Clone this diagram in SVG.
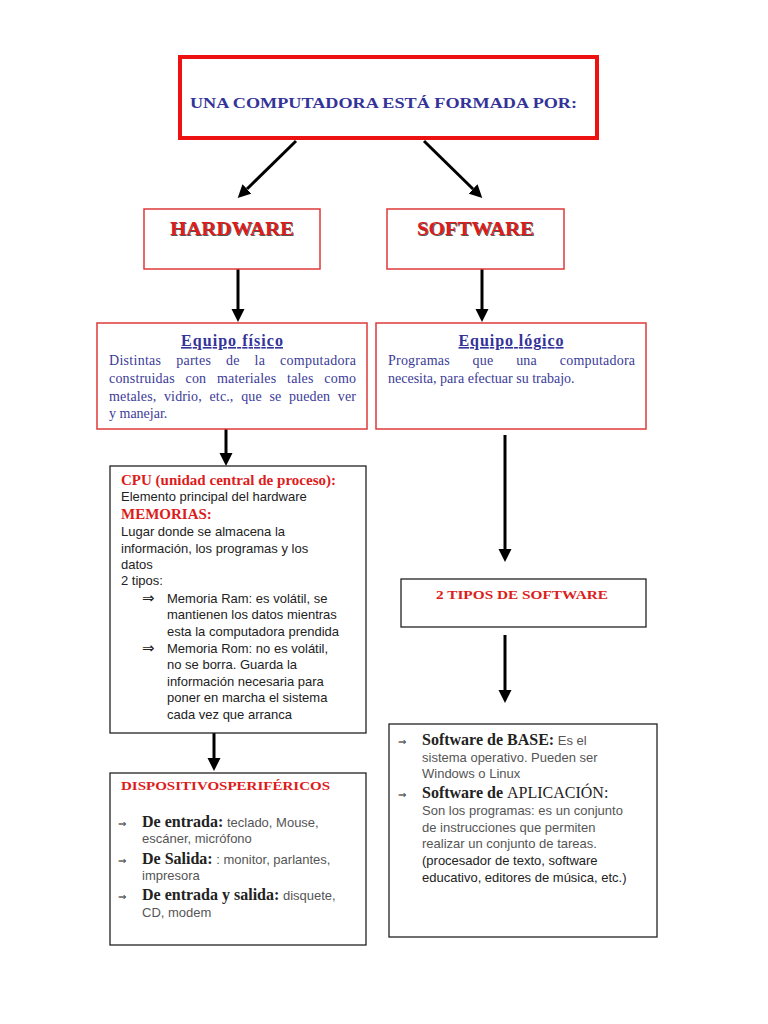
<svg xmlns="http://www.w3.org/2000/svg" width="768" height="1024" viewBox="0 0 768 1024">
<defs>
<marker id="ah" markerUnits="userSpaceOnUse" markerWidth="14" markerHeight="14" refX="0" refY="7" orient="auto">
<path d="M0,0.5 L13,7 L0,13.5 z" fill="#000"/>
</marker>
<style>
.rbox{fill:#fff;stroke:#e03a3a;stroke-width:1.5}
.bbox{fill:#fff;stroke:#222;stroke-width:1.3}
.con{stroke:#000;stroke-width:3;fill:none;marker-end:url(#ah)}
.navyB{font-family:"Liberation Serif",serif;font-weight:bold;fill:#333399}
.body{font-family:"Liberation Serif",serif;font-size:14px;fill:#3b3b98}
.redB{font-family:"Liberation Serif",serif;font-weight:bold;fill:#dd1c1c}
.big{font-family:"Liberation Serif",serif;font-weight:bold;font-size:18px}
.sans{font-family:"Liberation Sans",Arial,sans-serif;font-size:13px;fill:#222}
.gsans{font-family:"Liberation Sans",Arial,sans-serif;font-size:13px;fill:#555}
.blkB{font-family:"Liberation Serif",serif;font-weight:bold;font-size:16px;fill:#222}
.arr{font-family:"DejaVu Sans",sans-serif;fill:#222}
</style>
</defs>
<rect width="768" height="1024" fill="#fff"/>

<g id="connectors">
<line class="con" x1="296" y1="141" x2="247" y2="189"/>
<line class="con" x1="424" y1="141" x2="473" y2="189"/>
<line class="con" x1="238" y1="266" x2="238" y2="309"/>
<line class="con" x1="482" y1="266" x2="482" y2="309"/>
<line class="con" x1="226" y1="426" x2="226" y2="453"/>
<line class="con" x1="214" y1="726" x2="214" y2="758"/>
<line class="con" x1="505" y1="435" x2="505" y2="549"/>
<line class="con" x1="505" y1="635" x2="505" y2="690"/>
</g>

<g id="top">
<rect x="180" y="57" width="417" height="81" fill="#fff" stroke="#ee1111" stroke-width="4"/>
<text class="navyB" x="190" y="108" font-size="15.5" textLength="387" lengthAdjust="spacingAndGlyphs">UNA COMPUTADORA ESTÁ FORMADA POR:</text>
</g>

<g id="hardware">
<rect class="rbox" x="144" y="209" width="176" height="60"/>
<text class="big" x="232.8" y="235.8" text-anchor="middle" fill="#555" textLength="124" lengthAdjust="spacingAndGlyphs">HARDWARE</text>
<text class="big" x="232" y="235" text-anchor="middle" fill="#dd1c1c" textLength="124" lengthAdjust="spacingAndGlyphs">HARDWARE</text>
</g>

<g id="software">
<rect class="rbox" x="387" y="209" width="177" height="60"/>
<text class="big" x="476.3" y="235.8" text-anchor="middle" fill="#555" textLength="117" lengthAdjust="spacingAndGlyphs">SOFTWARE</text>
<text class="big" x="475.5" y="235" text-anchor="middle" fill="#dd1c1c" textLength="117" lengthAdjust="spacingAndGlyphs">SOFTWARE</text>
</g>

<g id="equipo-fisico">
<rect class="rbox" x="97" y="323" width="270" height="106"/>
<text class="navyB" x="232" y="346" font-size="16" text-anchor="middle" text-decoration="underline" textLength="102" lengthAdjust="spacing">Equipo físico</text>
<text class="body" x="109" y="365" word-spacing="11" textLength="247" lengthAdjust="spacing">Distintas partes de la computadora</text>
<text class="body" x="109" y="383" word-spacing="7" textLength="247" lengthAdjust="spacing">construidas con materiales tales como</text>
<text class="body" x="109" y="401" word-spacing="4" textLength="247" lengthAdjust="spacing">metales, vidrio, etc., que se pueden ver</text>
<text class="body" x="109" y="418">y manejar.</text>
</g>

<g id="equipo-logico">
<rect class="rbox" x="376" y="323" width="270" height="106"/>
<text class="navyB" x="511" y="346" font-size="16" text-anchor="middle" text-decoration="underline" textLength="105" lengthAdjust="spacing">Equipo lógico</text>
<text class="body" x="388" y="365" word-spacing="19" textLength="247" lengthAdjust="spacing">Programas que una computadora</text>
<text class="body" x="388" y="383">necesita, para efectuar su trabajo.</text>
</g>

<g id="cpu">
<rect class="bbox" x="110" y="466" width="256" height="267"/>
<text class="redB" x="121" y="485" font-size="15" textLength="215" lengthAdjust="spacingAndGlyphs">CPU (unidad central de proceso):</text>
<text class="sans" x="121" y="501">Elemento principal del hardware</text>
<text class="redB" x="121" y="519" font-size="15">MEMORIAS:</text>
<text class="sans" x="121" y="536">Lugar donde se almacena la</text>
<text class="sans" x="121" y="553">información, los programas y los</text>
<text class="sans" x="121" y="569">datos</text>
<text class="sans" x="121" y="585">2 tipos:</text>
<text class="arr" x="142" y="603" font-size="15">⇒</text>
<text class="sans" x="167" y="603">Memoria Ram: es volátil, se</text>
<text class="sans" x="167" y="619">mantienen los datos mientras</text>
<text class="sans" x="167" y="636">esta la computadora prendida</text>
<text class="arr" x="142" y="653" font-size="15">⇒</text>
<text class="sans" x="167" y="653">Memoria Rom: no es volátil,</text>
<text class="sans" x="167" y="669">no se borra. Guarda la</text>
<text class="sans" x="167" y="686">información necesaria para</text>
<text class="sans" x="167" y="702">poner en marcha el sistema</text>
<text class="sans" x="167" y="719">cada vez que arranca</text>
</g>

<g id="dispositivos">
<rect class="bbox" x="110" y="773" width="256" height="172"/>
<text class="redB" x="121" y="790" font-size="13.5" textLength="209" lengthAdjust="spacingAndGlyphs">DISPOSITIVOSPERIFÉRICOS</text>
<text class="arr" x="118" y="827" font-size="10">⇒</text>
<text x="142" y="827"><tspan class="blkB">De entrada:</tspan><tspan class="gsans"> teclado, Mouse,</tspan></text>
<text class="gsans" x="142" y="843">escáner, micrófono</text>
<text class="arr" x="118" y="864" font-size="10">⇒</text>
<text x="142" y="864"><tspan class="blkB">De Salida:</tspan><tspan class="gsans"> : monitor, parlantes,</tspan></text>
<text class="gsans" x="142" y="880">impresora</text>
<text class="arr" x="118" y="900" font-size="10">⇒</text>
<text x="142" y="900"><tspan class="blkB">De entrada y salida:</tspan><tspan class="gsans"> disquete,</tspan></text>
<text class="gsans" x="142" y="917">CD, modem</text>
</g>

<g id="dos-tipos">
<rect class="bbox" x="401" y="579" width="245" height="48"/>
<text class="redB" x="522" y="599" font-size="13.5" text-anchor="middle" textLength="172" lengthAdjust="spacingAndGlyphs">2 TIPOS DE SOFTWARE</text>
</g>

<g id="tipos-software">
<rect class="bbox" x="389" y="724" width="268" height="213"/>
<text class="arr" x="398" y="745" font-size="10">⇒</text>
<text x="422" y="745"><tspan class="blkB">Software de BASE:</tspan><tspan class="gsans"> Es el</tspan></text>
<text class="gsans" x="422" y="762">sistema operativo. Pueden ser</text>
<text class="gsans" x="422" y="778">Windows o Linux</text>
<text class="arr" x="398" y="798" font-size="10">⇒</text>
<text class="blkB" x="422" y="798">Software de <tspan style="font-weight:normal">APLICACIÓN:</tspan></text>
<text class="gsans" x="422" y="815">Son los programas: es un conjunto</text>
<text class="gsans" x="422" y="832">de instrucciones que permiten</text>
<text class="gsans" x="422" y="848">realizar un conjunto de tareas.</text>
<text class="sans" x="422" y="865">(procesador de texto, software</text>
<text class="sans" x="422" y="882">educativo, editores de música, etc.)</text>
</g>
</svg>
